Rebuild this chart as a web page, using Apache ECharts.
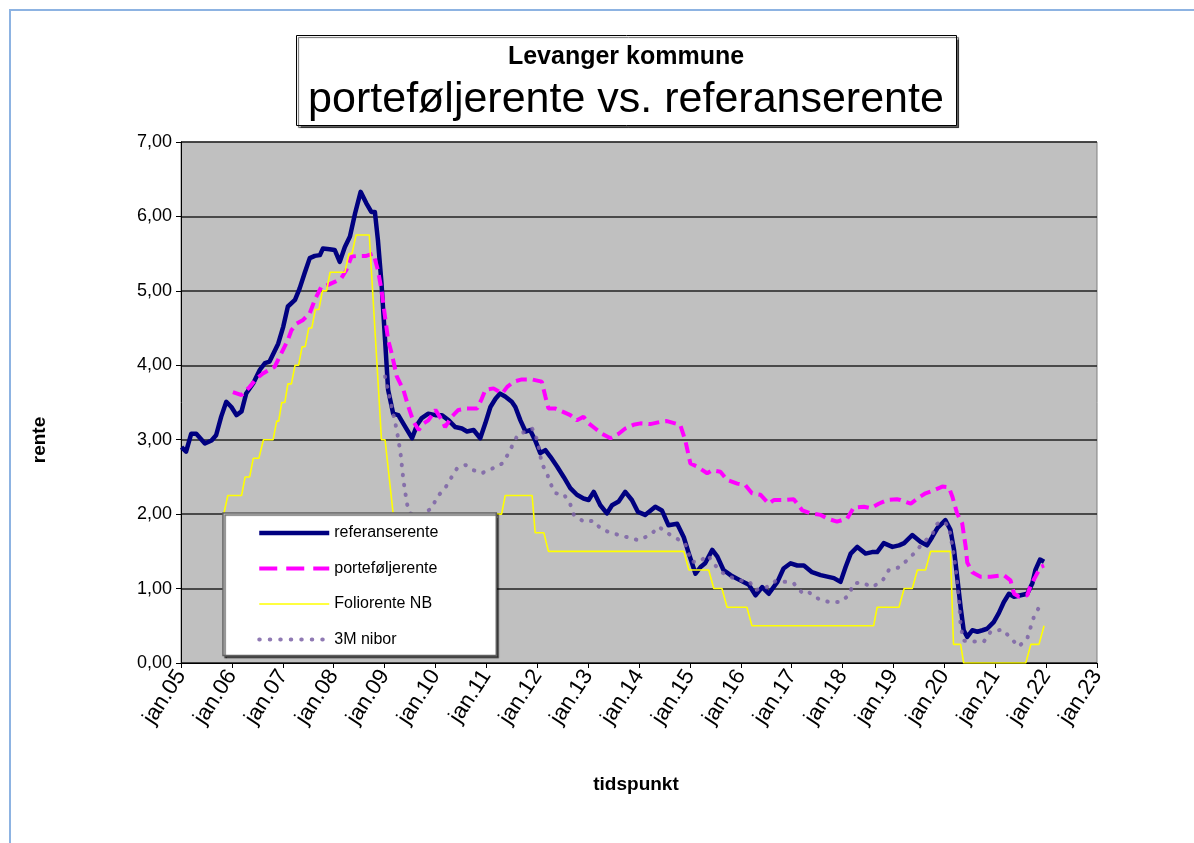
<!DOCTYPE html>
<html>
<head>
<meta charset="utf-8">
<title>Levanger kommune</title>
<script src="https://cdn.jsdelivr.net/npm/echarts@6/dist/echarts.min.js"></script>
<style>
  html, body { margin: 0; padding: 0; background: #fff; }
  #frame { position: absolute; left: 9px; top: 9px; width: 1185px; height: 834px;
           border-top: 2px solid #8db3e2; border-left: 2px solid #8db3e2; }
  #main { position: absolute; left: 0; top: 0; width: 1194px; height: 843px; }
</style>
</head>
<body>
<div id="frame"></div>
<div id="main"></div>
<script>
// serienavn
let seriesNames = ['referanserente', 'porteføljerente', 'Foliorente NB', '3M nibor'];

// [år (desimal), rente]
let referanserente = [
  [2005.01,2.90],[2005.10,2.84],[2005.20,3.08],[2005.30,3.08],[2005.47,2.95],[2005.60,2.99],[2005.69,3.06],[2005.79,3.31],[2005.89,3.51],[2005.99,3.44],
  [2006.09,3.33],[2006.19,3.38],[2006.28,3.62],[2006.42,3.76],[2006.55,3.94],[2006.65,4.03],[2006.74,4.05],[2006.91,4.29],
  [2007.01,4.52],[2007.10,4.79],[2007.24,4.88],[2007.33,5.03],[2007.43,5.24],[2007.53,5.44],[2007.63,5.47],[2007.73,5.48],[2007.79,5.57],[2007.92,5.56],
  [2008.02,5.55],[2008.12,5.39],[2008.22,5.59],[2008.32,5.73],[2008.42,6.04],[2008.53,6.33],[2008.64,6.18],[2008.74,6.06],[2008.81,6.06],[2008.87,5.68],[2008.94,5.10],
  [2009.01,4.34],[2009.07,3.67],[2009.17,3.35],[2009.27,3.33],[2009.41,3.17],[2009.54,3.02],[2009.64,3.20],[2009.73,3.29],[2009.86,3.35],
  [2010.00,3.33],[2010.13,3.33],[2010.26,3.26],[2010.39,3.17],[2010.52,3.15],[2010.62,3.11],[2010.75,3.13],[2010.88,3.02],[2010.98,3.22],
  [2011.08,3.44],[2011.18,3.55],[2011.27,3.62],[2011.37,3.58],[2011.50,3.51],[2011.57,3.44],[2011.67,3.26],[2011.77,3.11],[2011.86,3.13],[2011.96,2.99],
  [2012.06,2.82],[2012.16,2.86],[2012.26,2.77],[2012.39,2.64],[2012.52,2.50],[2012.65,2.35],[2012.78,2.26],[2012.91,2.21],
  [2013.01,2.19],[2013.11,2.30],[2013.24,2.12],[2013.37,2.01],[2013.47,2.12],[2013.60,2.17],[2013.73,2.30],[2013.86,2.19],[2013.98,2.03],
  [2014.12,1.99],[2014.32,2.10],[2014.45,2.05],[2014.58,1.85],[2014.75,1.87],[2014.88,1.69],[2014.98,1.47],
  [2015.11,1.20],[2015.21,1.29],[2015.30,1.34],[2015.44,1.52],[2015.54,1.43],[2015.66,1.25],[2015.80,1.18],[2015.99,1.11],
  [2016.16,1.05],[2016.29,0.91],[2016.42,1.02],[2016.55,0.93],[2016.72,1.09],[2016.84,1.27],[2016.98,1.34],
  [2017.11,1.31],[2017.24,1.31],[2017.40,1.22],[2017.57,1.18],[2017.70,1.16],[2017.83,1.14],[2017.96,1.09],
  [2018.06,1.29],[2018.16,1.47],[2018.29,1.56],[2018.45,1.47],[2018.58,1.49],[2018.68,1.49],[2018.81,1.61],[2018.98,1.56],
  [2019.11,1.58],[2019.21,1.61],[2019.37,1.72],[2019.53,1.63],[2019.66,1.58],[2019.76,1.69],[2019.86,1.81],
  [2020.02,1.92],[2020.12,1.79],[2020.19,1.52],[2020.26,1.11],[2020.32,0.75],[2020.38,0.44],[2020.45,0.35],[2020.55,0.44],[2020.65,0.42],[2020.75,0.44],[2020.84,0.46],[2020.97,0.55],
  [2021.07,0.67],[2021.17,0.82],[2021.27,0.93],[2021.37,0.89],[2021.50,0.91],[2021.63,0.93],[2021.73,1.07],[2021.79,1.25],[2021.88,1.39],[2021.96,1.36]
];

let portefoljerente = [
  [2006.02,3.64],[2006.19,3.60],[2006.35,3.71],[2006.48,3.82],[2006.61,3.89],[2006.74,3.94],[2006.84,3.98],[2006.97,4.16],
  [2007.10,4.34],[2007.17,4.47],[2007.27,4.56],[2007.40,4.61],[2007.53,4.70],[2007.63,4.88],[2007.76,5.06],[2007.89,5.08],
  [2008.02,5.12],[2008.15,5.17],[2008.25,5.28],[2008.35,5.46],[2008.48,5.47],[2008.64,5.47],[2008.78,5.50],[2008.87,5.28],[2008.94,5.01],
  [2009.01,4.65],[2009.07,4.34],[2009.14,4.16],[2009.24,3.85],[2009.37,3.67],[2009.47,3.44],[2009.57,3.24],[2009.67,3.13],[2009.77,3.22],[2009.86,3.26],
  [2010.00,3.40],[2010.13,3.26],[2010.19,3.17],[2010.32,3.31],[2010.45,3.40],[2010.62,3.42],[2010.82,3.42],[2010.91,3.55],[2010.98,3.67],
  [2011.14,3.69],[2011.31,3.62],[2011.41,3.71],[2011.54,3.78],[2011.70,3.81],[2011.90,3.81],
  [2012.09,3.78],[2012.16,3.58],[2012.22,3.42],[2012.35,3.42],[2012.52,3.37],[2012.65,3.33],[2012.78,3.26],[2012.91,3.31],
  [2013.01,3.22],[2013.14,3.15],[2013.27,3.08],[2013.44,3.02],[2013.60,3.08],[2013.73,3.15],[2013.89,3.20],
  [2014.03,3.22],[2014.22,3.21],[2014.42,3.24],[2014.55,3.25],[2014.81,3.20],[2014.91,2.99],
  [2015.01,2.68],[2015.14,2.64],[2015.34,2.55],[2015.44,2.59],[2015.60,2.57],[2015.73,2.46],[2015.93,2.41],
  [2016.09,2.39],[2016.22,2.28],[2016.39,2.26],[2016.55,2.14],[2016.65,2.19],[2016.85,2.19],
  [2017.04,2.20],[2017.21,2.05],[2017.37,2.01],[2017.57,1.99],[2017.70,1.94],[2017.89,1.90],
  [2018.09,1.94],[2018.22,2.09],[2018.42,2.10],[2018.55,2.08],[2018.71,2.14],[2018.88,2.19],
  [2019.07,2.20],[2019.14,2.19],[2019.34,2.14],[2019.47,2.21],[2019.63,2.28],[2019.79,2.32],[2019.96,2.37],
  [2020.09,2.36],[2020.16,2.23],[2020.25,2.01],[2020.35,1.88],[2020.42,1.56],[2020.45,1.35],[2020.55,1.22],[2020.71,1.16],[2020.91,1.16],
  [2021.17,1.18],[2021.30,1.11],[2021.37,0.93],[2021.47,0.89],[2021.63,0.91],[2021.70,1.05],[2021.79,1.16],[2021.89,1.29],[2021.96,1.31]
];

let foliorente = [
  [2005.84,2.00],[2005.92,2.25],[2006.19,2.25],[2006.26,2.50],[2006.35,2.50],
  [2006.42,2.75],[2006.53,2.75],[2006.62,3.00],[2006.81,3.00],[2006.88,3.25],[2006.92,3.25],[2006.98,3.50],[2007.04,3.50],
  [2007.10,3.75],[2007.17,3.75],[2007.24,4.00],[2007.31,4.00],[2007.38,4.25],[2007.44,4.25],[2007.51,4.50],[2007.57,4.50],
  [2007.64,4.75],[2007.71,4.75],[2007.78,5.00],[2007.86,5.00],[2007.93,5.25],[2008.22,5.25],[2008.30,5.50],[2008.36,5.50],
  [2008.44,5.75],[2008.70,5.75],[2008.94,3.00],[2009.01,3.00],[2009.25,1.50],[2009.45,1.25],[2009.80,1.25],[2009.86,1.50],
  [2009.93,1.75],[2010.33,1.75],[2010.40,2.00],[2011.30,2.00],[2011.37,2.25],[2011.90,2.25],[2011.96,1.75],[2012.13,1.75],
  [2012.22,1.50],[2014.88,1.50],[2014.98,1.25],[2015.37,1.25],[2015.47,1.00],[2015.63,1.00],[2015.73,0.75],[2016.12,0.75],
  [2016.22,0.50],[2018.61,0.50],[2018.68,0.75],[2019.11,0.75],[2019.21,1.00],[2019.37,1.00],[2019.47,1.25],[2019.63,1.25],
  [2019.73,1.50],[2020.12,1.50],[2020.18,0.25],[2020.32,0.25],[2020.38,0.00],[2021.60,0.00],[2021.70,0.25],[2021.86,0.25],
  [2021.96,0.50]
];

let nibor3m = [
  [2009.01,3.85],[2009.14,3.44],[2009.24,3.13],[2009.31,2.84],[2009.37,2.46],[2009.44,2.14],[2009.50,2.01],[2009.70,1.98],[2009.93,2.08],
  [2010.03,2.23],[2010.19,2.35],[2010.32,2.50],[2010.42,2.61],[2010.59,2.66],[2010.75,2.59],[2010.91,2.55],
  [2011.11,2.61],[2011.31,2.68],[2011.44,2.82],[2011.53,2.95],[2011.63,3.08],[2011.80,3.11],[2011.90,3.15],[2011.96,3.08],
  [2012.03,2.90],[2012.09,2.68],[2012.19,2.55],[2012.26,2.41],[2012.36,2.28],[2012.52,2.27],[2012.65,2.13],[2012.72,1.99],[2012.91,1.90],
  [2013.11,1.91],[2013.24,1.81],[2013.40,1.76],[2013.60,1.72],[2013.77,1.69],[2013.99,1.65],
  [2014.22,1.72],[2014.39,1.83],[2014.57,1.74],[2014.75,1.67],[2014.91,1.60],
  [2015.03,1.36],[2015.19,1.36],[2015.35,1.45],[2015.50,1.31],[2015.65,1.21],[2015.82,1.15],[2015.99,1.11],
  [2016.17,1.09],[2016.29,0.98],[2016.49,1.01],[2016.68,1.10],[2016.88,1.09],
  [2017.04,1.07],[2017.21,0.94],[2017.32,0.96],[2017.50,0.87],[2017.73,0.82],[2017.96,0.82],
  [2018.12,0.91],[2018.22,1.07],[2018.39,1.08],[2018.58,1.02],[2018.78,1.10],[2018.91,1.25],
  [2019.09,1.28],[2019.27,1.38],[2019.43,1.49],[2019.60,1.63],[2019.76,1.72],[2019.86,1.87],[2019.99,1.90],
  [2020.09,1.83],[2020.16,1.56],[2020.22,1.29],[2020.29,0.84],[2020.32,0.50],[2020.38,0.30],[2020.58,0.29],[2020.78,0.29],[2020.91,0.42],
  [2021.14,0.45],[2021.30,0.34],[2021.46,0.22],[2021.63,0.33],[2021.70,0.49],[2021.77,0.64],[2021.89,0.78]
];

// akser
let xStart = 2005, xEnd = 2023;
let yMax = 7;

let font = 'Arial, "Liberation Sans", sans-serif';

// linjestiler, brukt både i serier og forklaring
let styles = [
  { color: '#000080', width: 4.5, type: 'solid', join: 'round' },
  { color: '#ff00ff', width: 4, type: [11, 6] },
  { color: '#ffff00', width: 1.6, type: 'solid' },
  { color: '#7b62a6', width: 4, type: [0.5, 9.5], cap: 'round', opacity: 0.85 }
];
let legendDash = [null, [18, 9], null, [0.5, 10]];

let myChart = echarts.init(document.getElementById('main'));

let option = {
  backgroundColor: 'transparent',
  animation: false,
  grid: {
    left: 181, top: 142, width: 916, height: 521,
    show: true, backgroundColor: '#c0c0c0', borderColor: '#808080', borderWidth: 1
  },
  legend: {
    orient: 'vertical',
    left: 223, top: 513, z: 10,
    data: seriesNames.map(function (name, i) {
      let ls = Object.assign({}, styles[i]);
      if (legendDash[i]) ls.type = legendDash[i];
      return { name: name, lineStyle: ls };
    }),
    itemWidth: 70, itemHeight: 14, itemGap: 19.5,
    padding: [12, 58, 8, 34],
    backgroundColor: '#fff',
    borderColor: '#606060', borderWidth: 1.5,
    shadowColor: 'rgba(0,0,0,0.6)', shadowBlur: 1, shadowOffsetX: 2, shadowOffsetY: 2,
    itemStyle: { opacity: 0 },
    textStyle: { color: '#000', fontSize: 16, fontFamily: font }
  },
  xAxis: {
    type: 'value',
    min: xStart, max: xEnd, interval: 1,
    axisLine: { show: true, lineStyle: { color: '#000', width: 1 } },
    axisTick: { show: true, length: 5, lineStyle: { color: '#000' } },
    splitLine: { show: false },
    axisLabel: {
      rotate: 57, fontSize: 22, color: '#000', fontFamily: font, margin: 9,
      formatter: function (v) { return 'jan.' + String(v).slice(2); }
    }
  },
  yAxis: {
    type: 'value',
    min: 0, max: yMax, interval: 1,
    axisLine: { show: true, lineStyle: { color: '#000', width: 1 } },
    axisTick: { show: true, length: 5, lineStyle: { color: '#000' } },
    splitLine: { show: true, lineStyle: { color: '#222', width: 1.5 } },
    axisLabel: {
      fontSize: 18, color: '#000', fontFamily: font, margin: 9,
      formatter: function (v) { return v.toFixed(2).replace('.', ','); }
    }
  },
  series: [
    { name: seriesNames[0], type: 'line', data: referanserente, symbol: 'none',
      lineStyle: styles[0], itemStyle: { color: styles[0].color } },
    { name: seriesNames[1], type: 'line', data: portefoljerente, symbol: 'none',
      lineStyle: styles[1], itemStyle: { color: styles[1].color } },
    { name: seriesNames[2], type: 'line', data: foliorente, symbol: 'none',
      lineStyle: styles[2], itemStyle: { color: styles[2].color } },
    { name: seriesNames[3], type: 'line', data: nibor3m, symbol: 'none',
      lineStyle: styles[3], itemStyle: { color: styles[3].color } }
  ],
  graphic: [
    // tittelboks
    {
      type: 'rect', left: 296, top: 35, z: 10,
      shape: { width: 660, height: 90 },
      style: { fill: '#fff', stroke: '#000', lineWidth: 1,
               shadowColor: 'rgba(0,0,0,0.6)', shadowBlur: 1, shadowOffsetX: 2, shadowOffsetY: 2 }
    },
    {
      type: 'text', x: 626, y: 57, z: 11,
      style: { text: 'Levanger kommune', fill: '#000', font: 'bold 25px ' + font,
               textAlign: 'center', textVerticalAlign: 'middle' }
    },
    {
      type: 'text', x: 626, y: 100, z: 11,
      style: { text: 'porteføljerente vs. referanserente', fill: '#000', font: '43px ' + font,
               textAlign: 'center', textVerticalAlign: 'middle' }
    },
    // aksetitler
    {
      type: 'text', x: 40, y: 440, rotation: Math.PI / 2, z: 11,
      style: { text: 'rente', fill: '#000', font: 'bold 19px ' + font,
               textAlign: 'center', textVerticalAlign: 'middle' }
    },
    {
      type: 'text', x: 636, y: 785, z: 11,
      style: { text: 'tidspunkt', fill: '#000', font: 'bold 19px ' + font,
               textAlign: 'center', textVerticalAlign: 'middle' }
    }
  ]
};

myChart.setOption(option, true);
</script>
</body>
</html>
